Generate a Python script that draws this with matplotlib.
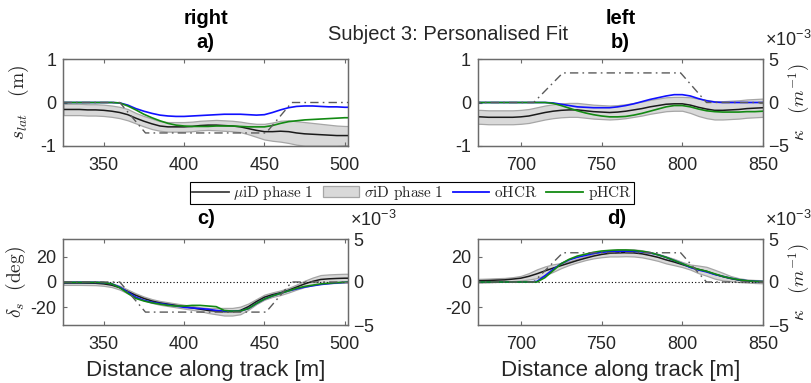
import numpy as np
import matplotlib
matplotlib.use("Agg")
import matplotlib.pyplot as plt
import matplotlib.transforms as mtransforms
from matplotlib.ticker import ScalarFormatter
from matplotlib.patches import Patch
from matplotlib.lines import Line2D

plt.rcParams.update({
    "font.family": ["Liberation Sans", "DejaVu Sans"],
    "mathtext.fontset": "custom",
    "mathtext.rm": "Liberation Sans",
    "mathtext.it": "Liberation Sans:italic",
    "mathtext.bf": "Liberation Sans:bold",
    "axes.unicode_minus": False,
})

# ---------------- data ----------------
# right-hand bend (distance along track, m)
dist_right = np.arange(325, 506, 5)
slat_mean_right = [-0.16, -0.16, -0.16, -0.17, -0.17, -0.18, -0.20, -0.23, -0.28, -0.36,
                   -0.43, -0.49, -0.54, -0.56, -0.56, -0.56, -0.55, -0.53, -0.52, -0.52,
                   -0.53, -0.54, -0.56, -0.60, -0.64, -0.67, -0.67, -0.66, -0.67, -0.70,
                   -0.72, -0.73, -0.74, -0.75, -0.76, -0.76, -0.76]
slat_std_right = [0.13, 0.13, 0.13, 0.13, 0.13, 0.13, 0.13, 0.13, 0.13, 0.12,
                  0.12, 0.12, 0.11, 0.11, 0.11, 0.11, 0.11, 0.11, 0.11, 0.12,
                  0.12, 0.12, 0.12, 0.13, 0.15, 0.18, 0.21, 0.24, 0.26, 0.27,
                  0.27, 0.26, 0.25, 0.24, 0.23, 0.22, 0.22]
slat_ohcr_right = [0, 0, 0, 0, 0, 0, 0, -0.01, -0.06, -0.14,
                   -0.20, -0.25, -0.29, -0.31, -0.32, -0.32, -0.31, -0.30, -0.29, -0.28,
                   -0.27, -0.27, -0.27, -0.28, -0.29, -0.28, -0.23, -0.17, -0.12, -0.09,
                   -0.08, -0.08, -0.09, -0.10, -0.10, -0.11, -0.11]
slat_phcr_right = [0, 0, 0, 0, 0, 0, 0, -0.01, -0.08, -0.17,
                   -0.27, -0.35, -0.42, -0.48, -0.52, -0.54, -0.55, -0.55, -0.55, -0.54,
                   -0.54, -0.54, -0.55, -0.56, -0.56, -0.56, -0.53, -0.48, -0.44, -0.42,
                   -0.40, -0.39, -0.38, -0.37, -0.36, -0.35, -0.35]
steer_mean_right = [-0.8, -0.8, -0.8, -0.9, -1.0, -1.5, -2.5, -4.5, -7.5, -10.5,
                    -13, -15, -16.5, -17.5, -18.5, -19.5, -20.5, -21.5, -22.5, -23,
                    -23.5, -23.5, -22.5, -19.5, -15.5, -12, -10, -8.5, -6.5, -4,
                    -1.5, 0.5, 2, 2.5, 2.8, 3, 3]
steer_std_right = [1.5, 1.5, 1.5, 1.5, 1.5, 1.5, 1.5, 1.5, 1.5, 1.5,
                   1.5, 1.5, 1.5, 1.5, 1.5, 1.5, 1.5, 1.5, 2, 2.5,
                   3, 3, 3, 2.5, 2, 2, 1.8, 1.8, 1.8, 2,
                   2.5, 3, 3.5, 3.5, 3.5, 3.5, 3.5]
steer_ohcr_right = [-0.3, -0.3, -0.3, -0.3, -0.3, -0.5, -1.5, -4, -8, -12,
                    -14.5, -16, -17, -18, -19, -20, -20.5, -21, -21.5, -22.5,
                    -23, -23, -23, -21, -17, -13.5, -11, -9, -7, -5.5,
                    -4, -3, -2, -1.3, -0.7, -0.3, 0]
steer_phcr_right = [-0.3, -0.3, -0.3, -0.3, -0.3, -0.5, -1.5, -4.5, -9, -13,
                    -15, -16.5, -17.5, -18.5, -19, -19, -18.5, -18.5, -19, -19.5,
                    -22.5, -23, -23, -21, -17, -13.5, -11, -9, -7, -5,
                    -3.5, -2.5, -1.5, -1, -0.5, -0.2, 0]
kappa_dist_right = [325, 360, 376, 451, 467, 505]
kappa_right = [0, 0, -3.5e-3, -3.5e-3, 0, 0]

# left-hand bend
dist_left = np.arange(670, 851, 5)
slat_mean_left = [-0.33, -0.33, -0.34, -0.34, -0.34, -0.34, -0.33, -0.31, -0.27, -0.23,
                  -0.20, -0.18, -0.17, -0.17, -0.19, -0.21, -0.22, -0.23, -0.22, -0.20,
                  -0.17, -0.14, -0.10, -0.07, -0.04, -0.03, -0.03, -0.06, -0.11, -0.15,
                  -0.18, -0.18, -0.17, -0.16, -0.14, -0.13, -0.12]
slat_std_left = [0.16, 0.16, 0.16, 0.16, 0.16, 0.16, 0.16, 0.16, 0.16, 0.16,
                 0.16, 0.16, 0.16, 0.16, 0.16, 0.16, 0.16, 0.16, 0.16, 0.16,
                 0.16, 0.16, 0.16, 0.16, 0.16, 0.16, 0.16, 0.18, 0.20, 0.21,
                 0.21, 0.21, 0.21, 0.21, 0.21, 0.21, 0.21]
slat_ohcr_left = [0, 0, 0, 0, 0, 0, 0, 0, 0, 0,
                  -0.01, -0.04, -0.07, -0.10, -0.11, -0.12, -0.12, -0.12, -0.10, -0.07,
                  -0.03, 0.02, 0.07, 0.11, 0.15, 0.18, 0.18, 0.15, 0.09, 0.04,
                  0.01, 0, 0, 0, 0, 0, 0]
slat_phcr_left = [0, 0, 0, 0, 0, 0, 0, 0, 0, 0,
                  -0.02, -0.07, -0.13, -0.19, -0.24, -0.28, -0.31, -0.33, -0.33, -0.32,
                  -0.29, -0.25, -0.20, -0.15, -0.10, -0.07, -0.07, -0.10, -0.15, -0.19,
                  -0.21, -0.22, -0.22, -0.22, -0.21, -0.21, -0.20]
steer_mean_left = [0.9, 1.0, 1.2, 1.5, 1.7, 2.3, 3.0, 4.5, 6.5, 8.8,
                   11, 13, 15, 17, 18.8, 20.5, 21.8, 22.7, 23, 23.2,
                   23, 22.3, 21, 19.5, 17.5, 15.8, 13.8, 11.8, 10, 8.5,
                   6.2, 4.3, 2.7, 1.5, 0.8, 0.4, 0.2]
steer_std_left = [1.5, 1.5, 1.5, 1.5, 1.5, 1.5, 1.8, 2.5, 3.5, 3.5,
                  3, 2, 1.5, 1.5, 1.5, 1.8, 2.2, 2.5, 2.8, 2.8,
                  2.8, 2.8, 2.8, 2.8, 2.8, 2.5, 2, 2, 3, 3.5,
                  3.5, 3, 2, 1.5, 1.2, 1.2, 1.2]
steer_ohcr_left = [0, 0, 0, 0, 0, 0, 0, 0, 0.5, 5,
                   10, 14.5, 17.5, 19.5, 21, 22.5, 23.5, 24, 24.3, 24.4,
                   24.3, 23.8, 23, 21.5, 19.5, 17, 14.5, 11.5, 9.5, 8,
                   6, 4.5, 3, 1.8, 1, 0.5, 0.3]
steer_phcr_left = [0, 0, 0, 0, 0, 0, 0, 0, 0, 3.5,
                   9, 14.5, 18, 20.5, 22, 23.5, 24.5, 25, 25.3, 25.3,
                   25, 24.3, 23.3, 21.5, 19.5, 17, 14.5, 12, 10, 8.5,
                   6.5, 4.5, 3, 1.8, 1, 0.5, 0.3]
kappa_dist_left = [670, 708, 726, 799, 815, 850]
kappa_left = [0, 0, 3.4e-3, 3.4e-3, 0, 0]

legend_labels = [r"$\mu\mathrm{iD\ phase\ 1}$", r"$\sigma\mathrm{iD\ phase\ 1}$",
                 r"$\mathrm{oHCR}$", r"$\mathrm{pHCR}$"]

# ---------------- styling ----------------
W, H = 812, 383
SPINE = "#6b6b6b"
TXT = "#262626"
C_MEAN = "#1a1a1a"
C_BAND = "#d9d9d9"
C_BAND_EDGE = "#a6a6a6"
C_OHCR = "#1010ff"
C_PHCR = "#138a13"
C_KAPPA = "#5a5a5a"
KAPPA_LS = (0, (6, 3, 1.2, 3))
TICK_FS = 13

fig = plt.figure(figsize=(W / 100, H / 100), dpi=100)


def px_axes(x0, y0, x1, y1):
    return fig.add_axes([x0 / W, 1 - y1 / H, (x1 - x0) / W, (y1 - y0) / H])


def style_axis(ax):
    for s in ax.spines.values():
        s.set_color(SPINE)
        s.set_linewidth(0.9)
    ax.tick_params(direction="in", length=3, width=0.8, color=SPINE,
                   labelcolor=TXT, labelsize=TICK_FS)
    ax.tick_params(axis="x", pad=8)
    ax.tick_params(axis="y", pad=5)


def draw_panel(ax, dist, mean, std, ohcr, phcr, kd, kv, xlim, ylim, yticks,
               zero_line=False, show_right=True):
    mean = np.asarray(mean)
    std = np.asarray(std)
    ax.fill_between(dist, mean - std, mean + std, facecolor=C_BAND,
                    edgecolor=C_BAND_EDGE, linewidth=0.9, zorder=1)
    ax.plot(dist, mean, color=C_MEAN, lw=1.1, zorder=3)
    ax.plot(dist, ohcr, color=C_OHCR, lw=1.2, zorder=4)
    ax.plot(dist, phcr, color=C_PHCR, lw=1.2, zorder=4)
    if zero_line:
        ax.axhline(0, color="black", lw=0.8, ls=(0, (1, 2)), zorder=2)
    ax.set_xlim(*xlim)
    ax.set_ylim(*ylim)
    ax.set_yticks(yticks)
    style_axis(ax)
    ax.tick_params(top=True, right=not show_right)

    axr = ax.twinx()
    axr.plot(kd, kv, color=C_KAPPA, lw=1.0, ls=KAPPA_LS)
    axr.set_ylim(-5e-3, 5e-3)
    axr.set_xlim(*xlim)
    style_axis(axr)
    if show_right:
        axr.tick_params(axis="y", pad=3.5)
        axr.set_yticks([-5e-3, 0, 5e-3])
        fmt = ScalarFormatter(useMathText=True)
        fmt.set_powerlimits((0, 0))
        axr.yaxis.set_major_formatter(fmt)
        axr.yaxis.get_offset_text().set_visible(False)
        # exponent shown above the right-hand axis
        shift = mtransforms.ScaledTranslation(2 / 100, 9 / 100, fig.dpi_scale_trans)
        axr.text(1.0, 1.0, r"$\times10^{-3}$", transform=axr.transAxes + shift,
                 ha="left", va="bottom", fontsize=TICK_FS, color=TXT)
    else:
        axr.set_yticks([])
    return axr


xlim_r = (325, 502)
xlim_l = (673.5, 850)

ax_a = px_axes(63.5, 59, 348, 146)
ax_b = px_axes(478, 59, 763, 146)
ax_c = px_axes(63.5, 239, 348, 325)
ax_d = px_axes(478, 239, 763, 325)

draw_panel(ax_a, dist_right, slat_mean_right, slat_std_right, slat_ohcr_right,
           slat_phcr_right, kappa_dist_right, kappa_right, xlim_r, (-1, 1),
           [-1, 0, 1], show_right=False)
axr_b = draw_panel(ax_b, dist_left, slat_mean_left, slat_std_left, slat_ohcr_left,
                   slat_phcr_left, kappa_dist_left, kappa_left, xlim_l, (-1, 1),
                   [-1, 0, 1])
draw_panel(ax_c, dist_right, steer_mean_right, steer_std_right, steer_ohcr_right,
           steer_phcr_right, kappa_dist_right, kappa_right, xlim_r, (-34, 34),
           [-20, 0, 20], zero_line=True)
axr_d = draw_panel(ax_d, dist_left, steer_mean_left, steer_std_left, steer_ohcr_left,
                   steer_phcr_left, kappa_dist_left, kappa_left, xlim_l, (-34, 34),
                   [-20, 0, 20], zero_line=True)

for ax in (ax_a, ax_c):
    ax.set_xticks([350, 400, 450, 500])
for ax in (ax_b, ax_d):
    ax.set_xticks([700, 750, 800, 850])

# axis labels (LaTeX-style)
lab_kw = dict(fontsize=14, color=TXT, math_fontfamily="cm")
ax_a.set_ylabel(r"$s_{lat}\ \ \ \mathrm{(m)}$", labelpad=7, **lab_kw)
ax_c.set_ylabel(r"$\delta_s\ \ \mathrm{(deg)}$", labelpad=2, **lab_kw)
axr_b.set_ylabel(r"$\kappa\ \ \ (m^{-1})$", labelpad=-2, fontsize=13.5,
                 color=TXT, math_fontfamily="cm")
axr_d.set_ylabel(r"$\kappa\ \ \ (m^{-1})$", labelpad=-2, fontsize=13.5,
                 color=TXT, math_fontfamily="cm")

for ax in (ax_c, ax_d):
    ax.set_xlabel("Distance along track [m]", fontsize=16, color=TXT, labelpad=5)

# titles
title_kw = dict(fontsize=14.5, fontweight="bold", color="black", ha="center", va="center")
fig.text(205.7 / W, 1 - 19 / H, "right", **title_kw)
fig.text(205.7 / W, 1 - 43 / H, "a)", **title_kw)
fig.text(620.5 / W, 1 - 19 / H, "left", **title_kw)
fig.text(620.5 / W, 1 - 43 / H, "b)", **title_kw)
fig.text(205.7 / W, 1 - 218.5 / H, "c)", **title_kw)
fig.text(617 / W, 1 - 218.5 / H, "d)", **title_kw)
fig.text(448 / W, 1 - 35 / H, "Subject 3: Personalised Fit", fontsize=14.5,
         color=TXT, ha="center", va="center")

# shared legend
handles = [Line2D([], [], color="#404040", lw=1.3),
           Patch(facecolor=C_BAND, edgecolor=C_BAND_EDGE, lw=0.9),
           Line2D([], [], color=C_OHCR, lw=1.3),
           Line2D([], [], color=C_PHCR, lw=1.3)]
leg = fig.legend(handles, legend_labels, loc="center", ncol=4,
                 bbox_to_anchor=(412 / W, 1 - 193 / H), fontsize=11,
                 frameon=True, fancybox=False, framealpha=1, edgecolor="black",
                 handlelength=2.4, handleheight=0.75, handletextpad=0.3,
                 columnspacing=0.6, borderpad=0.12, borderaxespad=0,
                 labelspacing=0.1)
leg.get_frame().set_linewidth(0.8)
for t in leg.get_texts():
    t.set_math_fontfamily("cm")
    t.set_color(TXT)

fig.savefig("out.png", dpi=100)
